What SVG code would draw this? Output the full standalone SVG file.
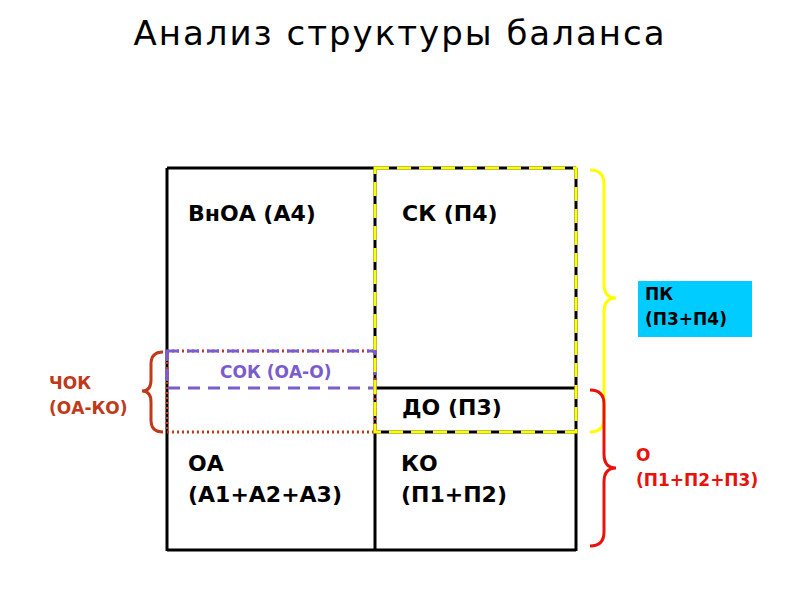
<svg xmlns="http://www.w3.org/2000/svg" width="800" height="600" viewBox="0 0 800 600">
<style>
text{font-family:"DejaVu Sans","Verdana",sans-serif}
.lbl{font-size:22px;fill:#000;font-weight:bold}
.sm{font-size:17px;font-weight:bold}
.blk{stroke:#000;stroke-width:3;fill:none}
</style>
<rect width="800" height="600" fill="#fff"/>
<text x="400" y="45" text-anchor="middle" font-size="34" letter-spacing="2" fill="#000">Анализ структуры баланса</text>
<g id="table">
<line class="blk" x1="167" y1="168" x2="167" y2="551"/>
<line class="blk" x1="375" y1="168" x2="375" y2="551"/>
<line class="blk" x1="576" y1="168" x2="576" y2="551"/>
<line class="blk" x1="167" y1="168" x2="576" y2="168"/>
<line class="blk" x1="167" y1="550" x2="576" y2="550"/>
<line class="blk" x1="375" y1="432" x2="576" y2="432"/>
<line class="blk" x1="375" y1="388" x2="576" y2="388"/>
</g>
<g id="chok-rect"><rect x="167" y="351" width="208" height="81" fill="none" stroke="#c0391b" stroke-width="3" stroke-dasharray="2 3"/></g>
<g id="sok-rect"><rect x="167" y="351" width="208" height="37" fill="none" stroke="#7a5ccc" stroke-width="3" stroke-dasharray="12 8"/></g>
<g id="pk-rect"><rect x="375" y="168" width="201" height="264" fill="none" stroke="#ffff00" stroke-width="3" stroke-dasharray="14 8"/></g>
<g id="vnoa"><text class="lbl" x="188" y="221">ВнОА (А4)</text></g>
<g id="sk"><text class="lbl" x="402" y="221">СК (П4)</text></g>
<g id="sok"><text x="220" y="378" class="sm" font-weight="normal" fill="#7a5ccc">СОК (ОА-О)</text></g>
<g id="do"><text class="lbl" x="402" y="415">ДО (П3)</text></g>
<g id="oa"><text class="lbl" x="188" y="471">ОА</text><text class="lbl" x="188" y="502">(А1+А2+А3)</text></g>
<g id="ko"><text class="lbl" x="401" y="471">КО</text><text class="lbl" x="401" y="502">(П1+П2)</text></g>
<g id="braces" fill="none" stroke-width="3">
<path d="M590,170 Q604,170 604,184 L604,284 Q604,298 616,298 Q604,298 604,312 L604,418 Q604,432 590,432" stroke="#ffff00"/>
<path d="M590,390 Q604,390 604,404 L604,454 Q604,468 616,468 Q604,468 604,482 L604,532 Q604,546 590,546" stroke="#e8120c"/>
<path d="M163,352 Q151,352 151,364 L151,380 Q151,391 142,391 Q151,391 151,402 L151,420 Q151,432 163,432" stroke="#c0391b"/>
</g>
<g id="pk"><rect x="638" y="281" width="114" height="56" fill="#00ccff"/><text x="645" y="300" class="sm" fill="#000">ПК</text><text x="645" y="325" class="sm" fill="#000">(П3+П4)</text></g>
<g id="o"><text x="636" y="461" class="sm" fill="#e8120c">О</text><text x="636" y="486" class="sm" fill="#e8120c">(П1+П2+П3)</text></g>
<g id="chok"><text x="49" y="389" class="sm" fill="#c0391b">ЧОК</text><text x="49" y="414" class="sm" fill="#c0391b">(ОА-КО)</text></g>
</svg>
